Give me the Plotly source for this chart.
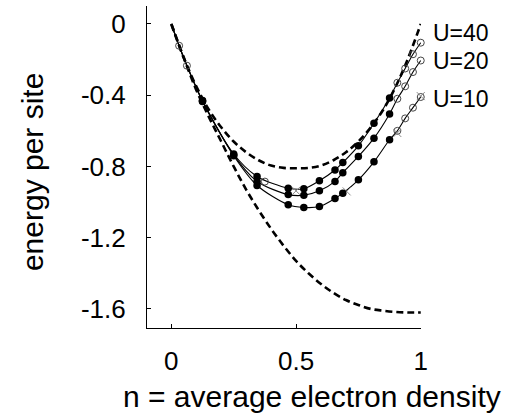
import plotly.graph_objects as go

# ---- data ----
# densities of the filled-dot points
n_filled = [0.125, 0.25, 0.34375, 0.46875, 0.53125, 0.59375, 0.65625, 0.6875, 0.75, 0.8125, 0.875]
E40_filled = [-0.430, -0.730, -0.856, -0.922, -0.925, -0.880, -0.820, -0.778, -0.684, -0.557, -0.415]
E20_filled = [-0.432, -0.735, -0.884, -0.958, -0.962, -0.937, -0.884, -0.835, -0.744, -0.641, -0.505]
E10_filled = [-0.435, -0.740, -0.907, -1.015, -1.030, -1.025, -0.980, -0.950, -0.875, -0.774, -0.650]

# low density open-circle points (common to all U)
n_low = [0.0, 0.03125, 0.0625]
E_low = [0.0, -0.122, -0.234]

# high density open-circle points
n_high = [0.90625, 0.9375, 0.96875, 1.0]
E40_high = [-0.330, -0.250, -0.170, -0.105]
E20_high = [-0.420, -0.350, -0.270, -0.205]
E10_high = [-0.600, -0.530, -0.470, -0.410]

# extra markers
n_open_extra = [0.375]
E_open_extra = [-0.885]
n_cross = [0.5, 0.703, 0.906, 1.0]
E_cross = [-0.937, -0.940, -0.612, -0.405]

# dashed reference curves
n_dash = [0.0, 0.05, 0.1, 0.15, 0.2, 0.25, 0.3, 0.35, 0.4, 0.45, 0.5,
          0.55, 0.6, 0.65, 0.7, 0.75, 0.8, 0.85, 0.9, 0.95, 1.0]
E_upper = [0.0, -0.19, -0.35, -0.48, -0.58, -0.66, -0.72, -0.765, -0.795, -0.808, -0.81,
           -0.808, -0.795, -0.765, -0.72, -0.66, -0.58, -0.48, -0.35, -0.19, 0.0]
E_lower = [0.0, -0.19, -0.37, -0.52, -0.66, -0.80, -0.93, -1.045, -1.15, -1.245, -1.33,
           -1.40, -1.46, -1.51, -1.55, -1.578, -1.60, -1.61, -1.617, -1.62, -1.62]

labels = ["U=40", "U=20", "U=10"]
label_y = [-0.048, -0.210, -0.421]

x_ticks = [0, 0.5, 1]
x_ticktext = ["0", "0.5", "1"]
y_ticks = [0, -0.4, -0.8, -1.2, -1.6]
y_ticktext = ["0", "-0.4", "-0.8", "-1.2", "-1.6"]

FONT = "Liberation Sans, Arial, sans-serif"
Y_LO, Y_HI = -1.707, 0.101

fig = go.Figure()

# dashed curves
for E in (E_lower, E_upper):
    fig.add_trace(go.Scatter(x=n_dash, y=E, mode="lines",
                             line=dict(color="black", width=2.6, dash="7px,4px", shape="spline"),
                             showlegend=False, hoverinfo="skip"))

# solid interacting curves
for Ef, Eh in ((E40_filled, E40_high), (E20_filled, E20_high), (E10_filled, E10_high)):
    xs = n_low + n_filled + n_high
    ys = E_low + Ef + Eh
    fig.add_trace(go.Scatter(x=xs, y=ys, mode="lines",
                             line=dict(color="black", width=1.1, shape="spline", smoothing=0.8),
                             showlegend=False, hoverinfo="skip"))

# open circles
open_x = n_low[1:] + n_open_extra + n_high * 3
open_y = E_low[1:] + E_open_extra + E40_high + E20_high + E10_high
fig.add_trace(go.Scatter(x=open_x, y=open_y, mode="markers",
                         marker=dict(symbol="circle-open", size=7, color="#444", line=dict(width=1)),
                         showlegend=False, hoverinfo="skip", cliponaxis=False))

# gray crosses
fig.add_trace(go.Scatter(x=n_cross, y=E_cross, mode="markers",
                         marker=dict(symbol="x-thin-open", size=8, color="#888", line=dict(width=1, color="#888")),
                         showlegend=False, hoverinfo="skip", cliponaxis=False))

# filled dots
for Ef in (E40_filled, E20_filled, E10_filled):
    fig.add_trace(go.Scatter(x=n_filled, y=Ef, mode="markers",
                             marker=dict(symbol="circle", size=7.5, color="black"),
                             showlegend=False, hoverinfo="skip"))

# U labels (paper x so they can sit right of the axis range)
for lab, ly in zip(labels, label_y):
    fig.add_annotation(x=1.036, y=(ly - Y_LO) / (Y_HI - Y_LO), xref="paper", yref="paper",
                       text=lab, showarrow=False, xanchor="left", yanchor="middle",
                       font=dict(family=FONT, size=23, color="black"))

# axis titles
fig.add_annotation(x=-0.42, y=0.484, xref="paper", yref="paper", text="energy per site",
                   showarrow=False, textangle=-90, xanchor="center", yanchor="middle",
                   font=dict(family=FONT, size=30, color="black"))
fig.add_annotation(x=0.602, y=-0.214, xref="paper", yref="paper", text="n = average electron density",
                   showarrow=False, xanchor="center", yanchor="middle",
                   font=dict(family=FONT, size=30, color="black"))

axis_common = dict(showline=True, linecolor="black", linewidth=1.2, mirror=False,
                   ticks="inside", ticklen=4, tickwidth=1, tickcolor="black",
                   showgrid=False, zeroline=False,
                   tickfont=dict(family=FONT, size=26, color="black"))

fig.update_xaxes(range=[-0.0975, 1.001], tickvals=x_ticks, ticktext=x_ticktext,
                 ticklabelstandoff=10, **axis_common)
fig.update_yaxes(range=[Y_LO, Y_HI], tickvals=y_ticks, ticktext=y_ticktext,
                 ticklabelstandoff=15, **axis_common)

fig.update_layout(width=513, height=417, margin=dict(l=147, r=92, t=6, b=89),
                  paper_bgcolor="white", plot_bgcolor="white",
                  font=dict(family=FONT, color="black"))

fig.write_html("out.html")
